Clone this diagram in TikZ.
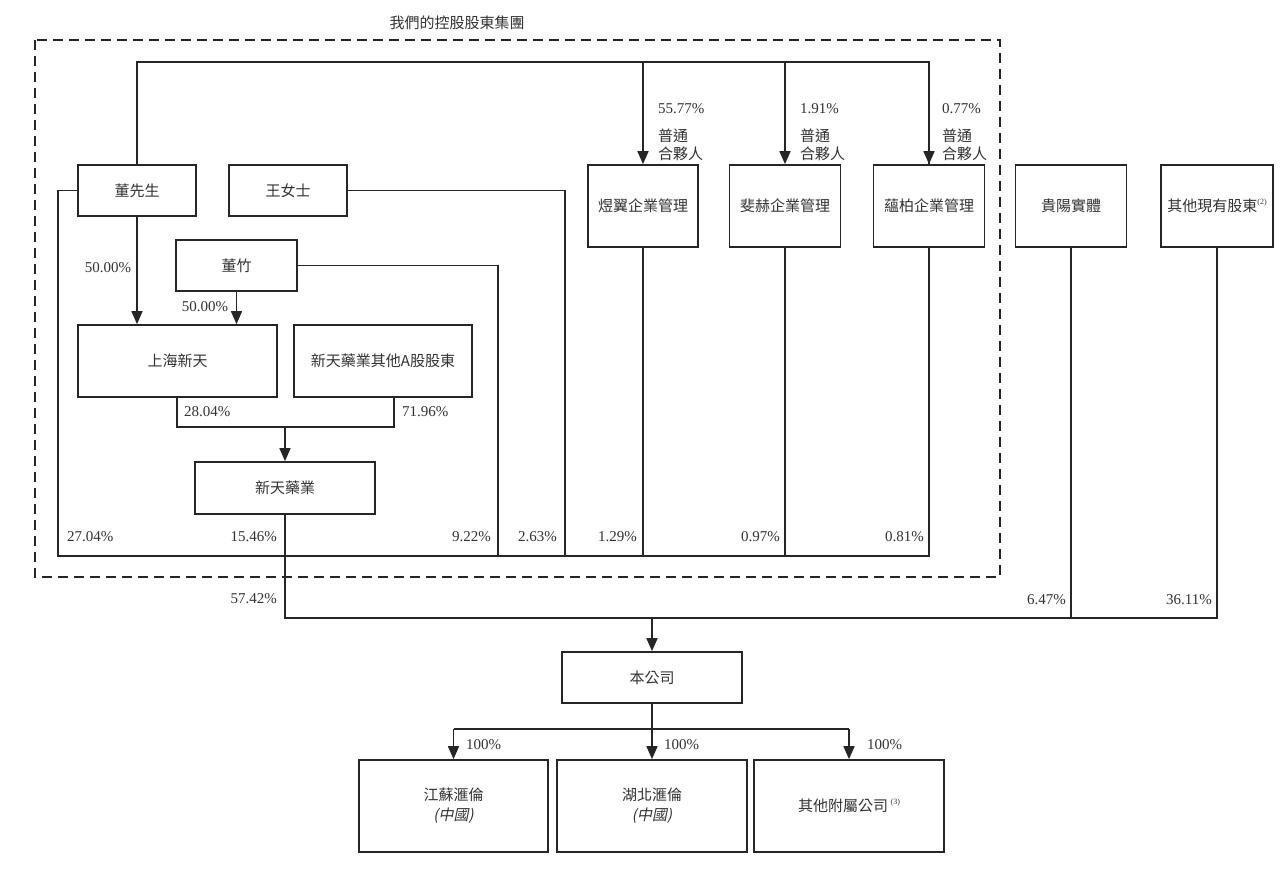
\documentclass[tikz,border=0pt]{standalone}
\usepackage{fontspec}
\setmainfont{Liberation Serif}
\newfontfamily\cjkf{Noto Sans CJK TC}
\newfontfamily\cjkit[FakeSlant=0.2]{Noto Sans CJK TC}
\usetikzlibrary{arrows.meta}
\tikzset{
  box/.style={draw=black!85, line width=1.7pt, rectangle, inner sep=0pt, font=\cjkf\fontsize{15}{20}\selectfont, text=black!80, align=center},
  conn/.style={draw=black!85, line width=1.6pt},
  arr/.style={conn, -{Triangle[width=11pt,length=13pt]}},
  pct/.style={font=\fontsize{15}{17}\selectfont, text=black!80, inner sep=0pt},
  cjklab/.style={font=\cjkf\fontsize{15}{17}\selectfont, text=black!80, inner sep=0pt},
  grpbox/.style={draw=black!85, line width=1.8pt, dash pattern=on 10pt off 6pt},
}
\newcommand{\supnote}[1]{\raisebox{0.5em}{\rmfamily\fontsize{8}{8}\selectfont(#1)}}
\begin{document}
\begin{tikzpicture}[x=1pt,y=-1pt]
\useasboundingbox[fill=white] (0,0) rectangle (1280,873);

% group frame and title
\draw[grpbox] (35,40) rectangle (1000,577);
\node[cjklab] (title) at (457,23) {我們的控股股東集團};

% boxes
\node[box, minimum width=118pt, minimum height=51pt] (dong) at (137,190.5) {董先生};
\node[box, minimum width=118pt, minimum height=51pt] (wang) at (288,190.5) {王女士};
\node[box, minimum width=121pt, minimum height=51pt] (zhu) at (236.5,265.5) {董竹};
\node[box, minimum width=199pt, minimum height=72pt] (shxt) at (177.5,361) {上海新天};
\node[box, minimum width=178pt, minimum height=72pt] (othA) at (383,361) {新天藥業其他A股股東};
\node[box, minimum width=180pt, minimum height=52pt] (xtyy) at (285,488) {新天藥業};
\node[box, minimum width=110pt, minimum height=82pt] (yy) at (643,206) {煜翼企業管理};
\node[box, minimum width=111pt, minimum height=82pt] (fh) at (785,206) {斐赫企業管理};
\node[box, minimum width=111pt, minimum height=82pt] (yb) at (929,206) {蘊柏企業管理};
\node[box, minimum width=111pt, minimum height=82pt] (gy) at (1071,206) {貴陽實體};
\node[box, minimum width=112pt, minimum height=82pt] (qt) at (1217,206) {其他現有股東\supnote{2}};
\node[box, minimum width=180pt, minimum height=51pt] (bgs) at (652,677.5) {本公司};
\node[box, minimum width=189pt, minimum height=92pt] (js) at (453.5,806) {江蘇滙倫\\{\cjkit(中國)}};
\node[box, minimum width=190pt, minimum height=92pt] (hb) at (652,806) {湖北滙倫\\{\cjkit(中國)}};
\node[box, minimum width=190pt, minimum height=92pt] (qf) at (849,806) {其他附屬公司\,\supnote{3}};

% coordinates
\coordinate (tl) at (137,62);
\coordinate (bl) at (58,556);
\coordinate (wx) at (565,556);
\coordinate (zx) at (498,556);
\coordinate (bkl) at (177,427);
\coordinate (bkr) at (394,427);
\coordinate (ml) at (285,618);
\coordinate (sb) at (652,729);

% top general partner line
\draw[conn] (dong.north) -- (tl) -| (yb.north);
\draw[arr] (yy.north |- tl) -- (yy.north);
\draw[arr] (fh.north |- tl) -- (fh.north);
\draw[arr] (yb.north |- tl) -- (yb.north);

% holdings into collector line
\draw[conn] (dong.west) -| (bl) -| (yb.south);
\draw[conn] (wang.east) -| (wx);
\draw[conn] (zhu.east) -| (zx);
\draw[conn] (yy.south) -- (yy.south |- bl);
\draw[conn] (fh.south) -- (fh.south |- bl);

% Shanghai Xintian
\draw[arr] (dong.south) -- (dong.south |- shxt.north);
\draw[arr] (zhu.south) -- (zhu.south |- shxt.north);
\draw[conn] (bkl |- shxt.south) -- (bkl) -- (bkr) -- (bkr |- othA.south);
\draw[arr] (xtyy.north |- bkl) -- (xtyy.north);

% to the company
\draw[conn] (xtyy.south) -- (ml) -| (qt.south);
\draw[conn] (gy.south) -- (gy.south |- ml);
\draw[arr] (bgs.north |- ml) -- (bgs.north);

% subsidiaries
\draw[conn] (bgs.south) -- (sb);
\draw[conn] (js.north |- sb) -- (qf.north |- sb);
\draw[arr] (js.north |- sb) -- (js.north);
\draw[arr] (sb) -- (hb.north);
\draw[arr] (qf.north |- sb) -- (qf.north);

% labels
\node[pct] (l1) at (108,268) {50.00\%};
\node[pct] (l2) at (205,307) {50.00\%};
\node[pct, anchor=west] (l3) at (184,412) {28.04\%};
\node[pct, anchor=west] (l4) at (402,412) {71.96\%};
\node[pct, anchor=west] (l5) at (67,537) {27.04\%};
\node[pct, anchor=east] (l6) at (277,537) {15.46\%};
\node[pct, anchor=east] (l7) at (491,537) {9.22\%};
\node[pct, anchor=east] (l8) at (557,537) {2.63\%};
\node[pct, anchor=east] (l9) at (637,537) {1.29\%};
\node[pct, anchor=east] (l10) at (780,537) {0.97\%};
\node[pct, anchor=east] (l11) at (924,537) {0.81\%};
\node[pct, anchor=east] (l12) at (277,599) {57.42\%};
\node[pct, anchor=east] (l13) at (1066,600) {6.47\%};
\node[pct, anchor=east] (l14) at (1212,600) {36.11\%};
\node[pct, anchor=west] (l15) at (658,109) {55.77\%};
\node[pct, anchor=west] (l16) at (800,109) {1.91\%};
\node[pct, anchor=west] (l17) at (942,109) {0.77\%};
\node[cjklab, anchor=west] (g1a) at (658,136) {普通};
\node[cjklab, anchor=west] (g1b) at (658,154) {合夥人};
\node[cjklab, anchor=west] (g2a) at (800,136) {普通};
\node[cjklab, anchor=west] (g2b) at (800,154) {合夥人};
\node[cjklab, anchor=west] (g3a) at (942,136) {普通};
\node[cjklab, anchor=west] (g3b) at (942,154) {合夥人};
\node[pct, anchor=west] (h1) at (466,745) {100\%};
\node[pct, anchor=west] (h2) at (664,745) {100\%};
\node[pct, anchor=west] (h3) at (867,745) {100\%};
\end{tikzpicture}
\end{document}
